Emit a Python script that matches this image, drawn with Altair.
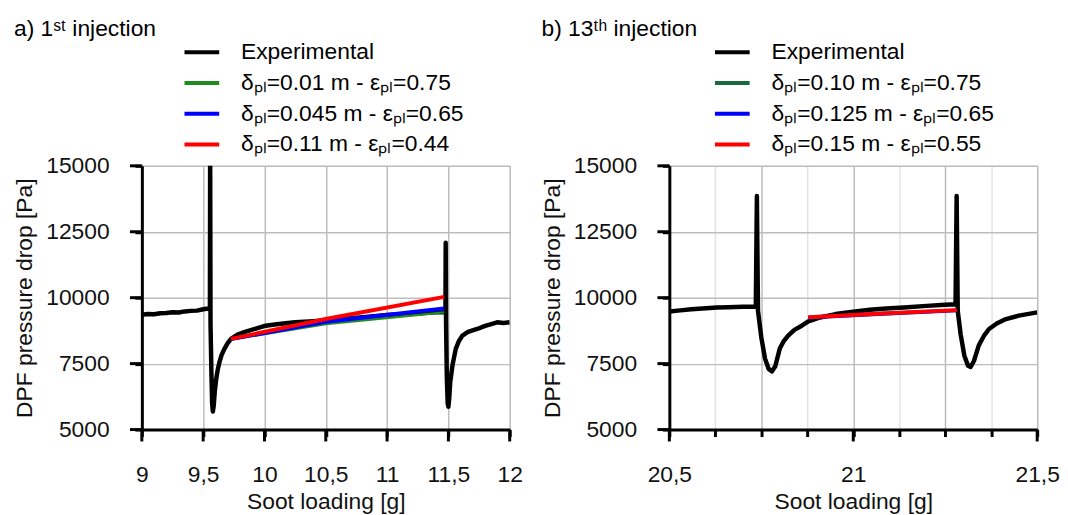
import altair as alt
import pandas as pd

# ---------------- Panel a) 1st injection ----------------
a_exp_x = [9.0, 9.05, 9.1, 9.15, 9.2, 9.25, 9.3, 9.35, 9.4, 9.45, 9.5, 9.54, 9.555,
           9.557, 9.560, 9.567, 9.573, 9.579, 9.586, 9.595, 9.606, 9.62, 9.633, 9.65,
           9.673, 9.70, 9.727, 9.78, 9.848, 9.93, 10.01, 10.1, 10.25, 10.4, 10.55,
           10.7, 10.85, 11.0, 11.15, 11.3, 11.39, 11.476, 11.478, 11.481, 11.487,
           11.494, 11.50, 11.507, 11.515, 11.533, 11.56, 11.585, 11.614, 11.66,
           11.735, 11.8, 11.85, 11.897, 11.95, 12.0]
a_exp_y = [9352, 9380, 9370, 9410, 9420, 9450, 9440, 9480, 9500, 9510, 9560, 9593, 9600,
           15800, 9000, 7200, 6000, 5680, 5900, 6450, 6900, 7300, 7560, 7820,
           8061, 8280, 8438, 8600, 8713, 8830, 8938, 8990, 9066, 9110, 9160,
           9220, 9280, 9341, 9380, 9420, 9443, 9450, 12080, 9000, 7000,
           6000, 5866, 6200, 6800, 7432, 8061, 8350, 8562, 8700,
           8814, 8930, 9000, 9066, 9040, 9066]
a_mod_x = [9.727, 10.5, 11.466]
a_green_y = [8420, 9002, 9443]
a_blue_y = [8430, 9090, 9593]
a_red_y = [8438, 9190, 10030]
a_names = ["Experimental", "δₚₗ=0.01 m - εₚₗ=0.75", "δₚₗ=0.045 m - εₚₗ=0.65",
           "δₚₗ=0.11 m - εₚₗ=0.44"]
a_colors = ["#000000", "#1e8c1e", "#0000ff", "#ff0000"]
a_title = "a) 1ˢᵗ injection"
a_domain = [9, 12]
a_ticks = [9 + 0.125 * i for i in range(25)]
a_major = [9, 9.5, 10, 10.5, 11, 11.5, 12]

# ---------------- Panel b) 13th injection ----------------
b_exp_x = [20.5, 20.53, 20.56, 20.6, 20.629, 20.66, 20.7, 20.735, 20.738, 20.741,
           20.75, 20.76, 20.77, 20.779, 20.788, 20.80, 20.81, 20.823, 20.84, 20.86,
           20.878, 20.91, 20.952, 21.0, 21.045, 21.09, 21.138, 21.2, 21.25, 21.278,
           21.281, 21.284, 21.292, 21.302, 21.312, 21.319, 21.328, 21.341, 21.355,
           21.369, 21.39, 21.415, 21.45, 21.5]
b_exp_y = [9480, 9520, 9560, 9600, 9631, 9640, 9655, 9669, 13857, 9500,
           8500, 7700, 7300, 7206, 7400, 8061, 8330, 8562, 8780, 8938,
           9100, 9250, 9379, 9470, 9541, 9590, 9631, 9690, 9730, 9755,
           13857, 9500, 8600, 7800, 7420, 7376, 7600, 8186, 8550,
           8814, 9020, 9190, 9320, 9443]
b_mod_x = [20.878, 21.08, 21.282]
b_green_y = [9248, 9390, 9515]
b_blue_y = [9252, 9395, 9520]
b_red_y = [9258, 9400, 9529]
b_names = ["Experimental", "δₚₗ=0.10 m - εₚₗ=0.75", "δₚₗ=0.125 m - εₚₗ=0.65",
           "δₚₗ=0.15 m - εₚₗ=0.55"]
b_colors = ["#000000", "#1a6b3c", "#0000ff", "#ff0000"]
b_title = "b) 13ᵗʰ injection"
b_domain = [20.5, 21.5]
b_ticks = [20.5 + 0.125 * i for i in range(9)]
b_major = [20.5, 21, 21.5]

y_ticks = [5000 + 1250 * i for i in range(9)]
y_major = [5000, 7500, 10000, 12500, 15000]

FONT = "Liberation Sans"
FS = 23
W, H = 371, 266


def build_panel(exp_x, exp_y, mod_x, green_y, blue_y, red_y, names, colors, title,
                domain, ticks, major_x, grid_mult, legend_x):
    exp_df = pd.DataFrame({"x": exp_x, "y": exp_y, "series": names[0],
                           "i": range(len(exp_x))})
    g_df = pd.DataFrame({"x": mod_x, "y": green_y, "series": names[1], "i": range(len(mod_x))})
    b_df = pd.DataFrame({"x": mod_x, "y": blue_y, "series": names[2], "i": range(len(mod_x))})
    r_df = pd.DataFrame({"x": mod_x, "y": red_y, "series": names[3], "i": range(len(mod_x))})
    mx_df = pd.DataFrame({"x": major_x})
    my_df = pd.DataFrame({"y": y_major})

    major = "abs(datum.value*2-round(datum.value*2))<0.001"
    gmajor = f"abs(datum.value*{grid_mult}-round(datum.value*{grid_mult}))<0.001"

    xscale = alt.Scale(domain=domain, nice=False, zero=False)
    yscale = alt.Scale(domain=[5000, 15000], nice=False, zero=False)

    x_enc = alt.X("x:Q", scale=xscale,
                  axis=alt.Axis(values=ticks, title="Soot loading [g]",
                                labelExpr=f"{major} ? replace(format(datum.value,'.1~f'),'.',',') : ''",
                                labelOverlap=False, labelFlush=False, labelBound=False,
                                labelFontSize=FS, titleFontSize=FS, tickSize=7,
                                gridColor={"condition": {"test": gmajor, "value": "#bdbdbd"},
                                           "value": "#e3e3e3"},
                                gridWidth=1.5,
                                labelPadding=27, titlePadding=5))
    y_enc = alt.Y("y:Q", scale=yscale,
                  axis=alt.Axis(values=y_ticks, title="DPF pressure drop [Pa]",
                                labelExpr="datum.value % 2500 == 0 ? format(datum.value,'d') : ''",
                                labelOverlap=False,
                                labelFontSize=FS, titleFontSize=FS, tickSize=7,
                                gridColor={"condition": {"test": "datum.value % 2500 == 0",
                                                         "value": "#bdbdbd"},
                                           "value": "#e3e3e3"},
                                gridWidth=1.5,
                                labelPadding=26, titlePadding=9))
    color = alt.Color("series:N",
                      scale=alt.Scale(domain=names, range=colors),
                      legend=alt.Legend(title=None, orient="none", legendX=legend_x,
                                        legendY=-130,
                                        symbolType="stroke", symbolSize=1225,
                                        symbolStrokeWidth=4, labelFontSize=FS,
                                        labelFont=FONT, labelColor="#000000",
                                        labelOffset=20, clipHeight=31, rowPadding=0,
                                        padding=0, labelLimit=400))
    order = alt.Order("i:Q")

    exp = alt.Chart(exp_df).mark_line(clip=True, strokeWidth=4.5, strokeJoin="round").encode(
        x=x_enc, y=y_enc, color=color, order=order)
    gl = alt.Chart(g_df).mark_line(clip=True, strokeWidth=2.5).encode(
        x=x_enc, y=y_enc, color=color, order=order)
    bl = alt.Chart(b_df).mark_line(clip=True, strokeWidth=4).encode(
        x=x_enc, y=y_enc, color=color, order=order)
    rl = alt.Chart(r_df).mark_line(clip=True, strokeWidth=4).encode(
        x=x_enc, y=y_enc, color=color, order=order)

    # longer ticks at the labelled positions
    xt = alt.Chart(mx_df).mark_rule(color="#000000", strokeWidth=3).encode(
        x=alt.X("x:Q", scale=xscale), y=alt.value(H), y2=alt.value(H + 12))
    yt = alt.Chart(my_df).mark_rule(color="#000000", strokeWidth=3).encode(
        y=alt.Y("y:Q", scale=yscale), x=alt.value(-12), x2=alt.value(0))

    return alt.layer(exp, gl, bl, rl, xt, yt).properties(
        width=W, height=H,
        title=alt.TitleParams(text=title, anchor="start", fontSize=FS, fontWeight="normal",
                              font=FONT, color="#000000", offset=-4))


left = build_panel(a_exp_x, a_exp_y, a_mod_x, a_green_y, a_blue_y, a_red_y, a_names,
                   a_colors, a_title, a_domain, a_ticks, a_major, 2, 41)
right = build_panel(b_exp_x, b_exp_y, b_mod_x, b_green_y, b_blue_y, b_red_y, b_names,
                    b_colors, b_title, b_domain, b_ticks, b_major, 4, 44)

chart = alt.hconcat(left, right, spacing=17).resolve_scale(
    x="independent", y="independent", color="independent"
).resolve_legend(color="independent").configure_view(stroke=None).configure(
    font=FONT, padding={"left": 5, "top": 7, "right": 0, "bottom": 0}
).configure_axis(
    domainColor="#000000", domainWidth=3, tickColor="#000000", tickWidth=3,
    labelFontSize=FS, titleFontSize=FS, titleFontWeight="normal", labelFont=FONT,
    titleFont=FONT, labelColor="#111111", titleColor="#111111"
)

chart.save("out.html", embed_options={"renderer": "svg", "actions": False})
